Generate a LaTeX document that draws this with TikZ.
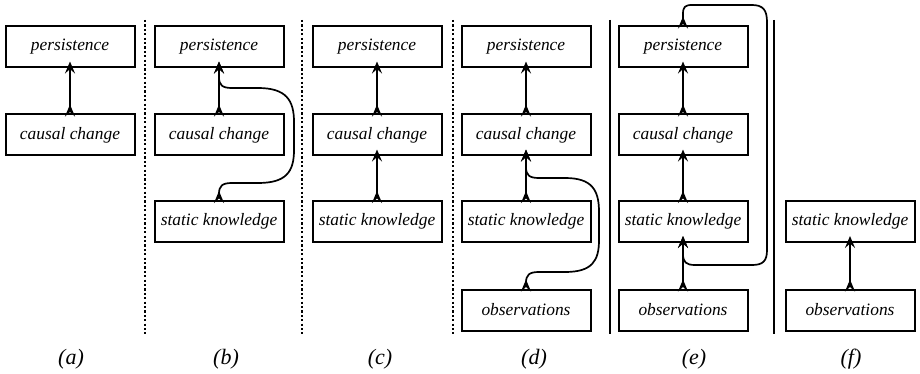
\documentclass[tikz,border=0pt]{standalone}
\usepackage{fontspec}
\setmainfont{Liberation Serif}
\usetikzlibrary{arrows.meta}
\begin{document}
\begin{tikzpicture}[x=1pt,y=-1pt,
  box/.style={draw,line width=2pt,minimum width=129pt,minimum height=41pt,inner sep=0pt,
    font=\fontsize{17.4}{20}\selectfont\itshape},
  tipA/.tip={Stealth[length=12pt,width=10pt,inset=4.5pt]},
  link/.style={line width=2pt,{tipA[reversed]}-{tipA},shorten <=-3pt,shorten >=-7pt},
  backlink/.style={line width=1.7pt,{tipA[reversed]}-{tipA},shorten <=-3pt,shorten >=-7pt},
  sublabel/.style={font=\fontsize{22}{24}\selectfont\itshape},
  dotsep/.style={line width=2.2pt,dash pattern=on 2.2pt off 2.2pt},
  solidsep/.style={line width=2pt}]
\useasboundingbox (0,0) rectangle (920,374);

% (a)
\node[box] (ap) at (70,47) {persistence};
\node[box] (ac) at (70,135) {causal change};
\draw[link] (ac) -- (ap);
\node[sublabel] (la) at (71,359) {(a)};

% (b)
\node[box] (bp) at (219,47) {persistence};
\node[box] (bc) at (219,135) {causal change};
\node[box] (bs) at (219,221.5) {static knowledge};
\draw[link] (bc) -- (bp);
\draw[backlink] (bs.north) -- (219,194)
  .. controls (219,186) and (222,183) .. (232,183) -- (258,183)
  .. controls (286,183) and (294,172) .. (294,150) -- (294,122)
  .. controls (294,100) and (286,88) .. (258,88) -- (232,88)
  .. controls (222,88) and (219,85) .. (219,77) -- (bp.south);
\node[sublabel] (lb) at (226,359) {(b)};

% (c)
\node[box] (cp) at (377,47) {persistence};
\node[box] (cc) at (377,135) {causal change};
\node[box] (cs) at (377,221.5) {static knowledge};
\draw[link] (cc) -- (cp);
\draw[link] (cs) -- (cc);
\node[sublabel] (lc) at (380,359) {(c)};

% (d)
\node[box] (dp) at (526,47) {persistence};
\node[box] (dc) at (526,135) {causal change};
\node[box] (ds) at (526,221.5) {static knowledge};
\node[box] (do) at (526,310) {observations};
\draw[link] (dc) -- (dp);
\draw[link] (ds) -- (dc);
\draw[backlink] (do.north) -- (526,283)
  .. controls (526,275) and (529,272) .. (539,272) -- (565,272)
  .. controls (592,272) and (599,261) .. (599,240) -- (599,212)
  .. controls (599,190) and (592,178) .. (565,178) -- (539,178)
  .. controls (529,178) and (526,175) .. (526,167) -- (dc.south);
\node[sublabel] (ld) at (534,359) {(d)};

% (e)
\node[box] (ep) at (683,47) {persistence};
\node[box] (ec) at (683,135) {causal change};
\node[box] (es) at (683,221.5) {static knowledge};
\node[box] (eo) at (683,310) {observations};
\draw[link] (ec) -- (ep);
\draw[link] (es) -- (ec);
\draw[link] (eo) -- (es);
\draw[backlink] (ep.north) -- (683,14)
  .. controls (683,7) and (685,5) .. (692,5) -- (752,5)
  .. controls (763,5) and (767,10) .. (767,22) -- (767,250)
  .. controls (767,261) and (763,265) .. (752,265) -- (695,265)
  .. controls (686,265) and (683,262) .. (683,254) -- (es.south);
\node[sublabel] (le) at (694,359) {(e)};

% (f)
\node[box] (fs) at (850,221.5) {static knowledge};
\node[box] (fo) at (850,310) {observations};
\draw[link] (fo) -- (fs);
\node[sublabel] (lf) at (851,359) {(f)};

% column separators
\coordinate (s1t) at (145,20); \coordinate (s1b) at (145,334);
\coordinate (s2t) at (302,20); \coordinate (s2b) at (302,334);
\coordinate (s3t) at (453,20); \coordinate (s3b) at (453,334);
\coordinate (s4t) at (610,20); \coordinate (s4b) at (610,334);
\coordinate (s5t) at (774,20); \coordinate (s5b) at (774,334);
\draw[dotsep] (s1t) -- (s1b);
\draw[dotsep] (s2t) -- (s2b);
\draw[dotsep] (s3t) -- (s3b);
\draw[solidsep] (s4t) -- (s4b);
\draw[solidsep] (s5t) -- (s5b);
\end{tikzpicture}
\end{document}
